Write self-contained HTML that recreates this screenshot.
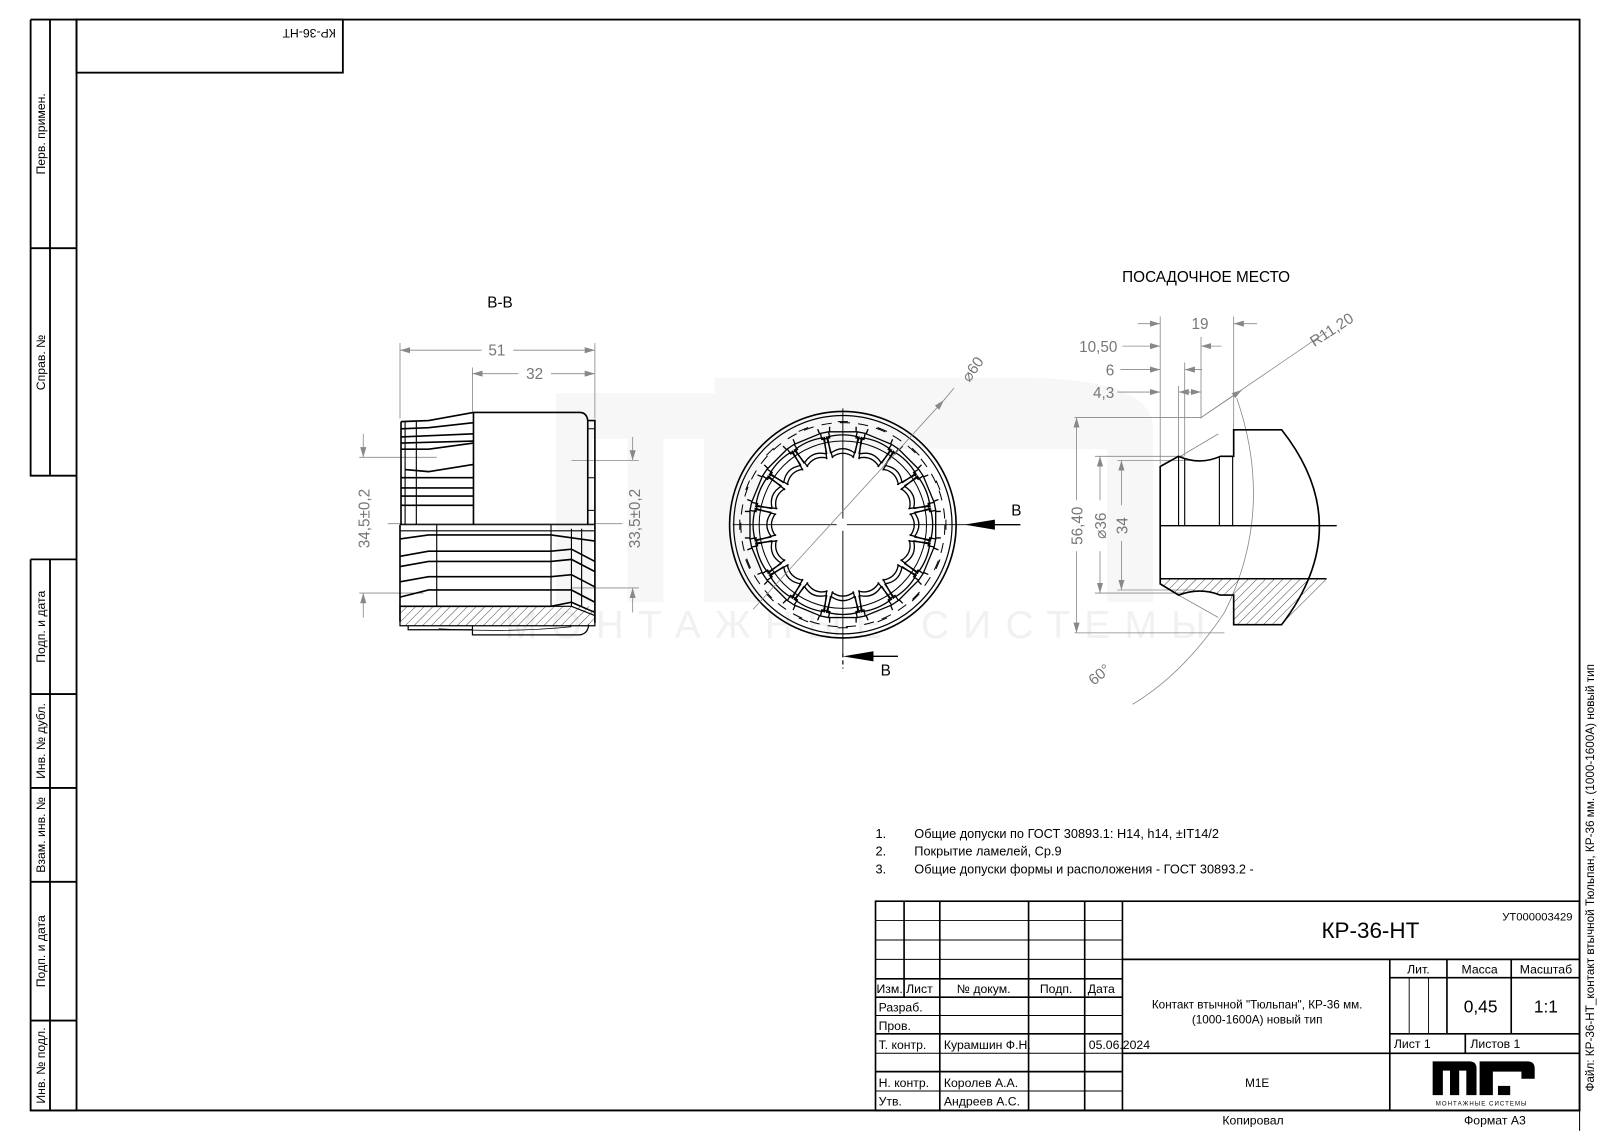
<!DOCTYPE html>
<html><head><meta charset="utf-8"><style>
html,body{margin:0;padding:0;background:#fff;}
svg{display:block;}
text{font-family:"Liberation Sans","DejaVu Sans",sans-serif;}
</style></head><body>
<svg width="1600" height="1131" viewBox="0 0 1568 1108" xmlns="http://www.w3.org/2000/svg" xmlns:xlink="http://www.w3.org/1999/xlink">
<defs>
<pattern id="h" width="6" height="6" patternUnits="userSpaceOnUse" patternTransform="rotate(45)">
<line x1="0" y1="0" x2="0" y2="6" stroke="#000" stroke-width="0.7"/>
</pattern>
<marker id="a" viewBox="0 0 10 6" refX="10" refY="3" markerWidth="10" markerHeight="6" orient="auto-start-reverse" markerUnits="userSpaceOnUse">
<path d="M0,0 L10,3 L0,6 z" fill="#888"/>
</marker>
<g id="cell" fill="none" stroke="#000" stroke-width="1.3">
<path d="M-13,-96 L-13,-91 L13,-91 L13,-96"/>
<path d="M-5,-101 L5,-101" stroke-width="1"/>
<path d="M-12,-70 Q0,-79 12,-70"/>
<path d="M-11,-66 Q0,-74 11,-66"/>
<path d="M-15,-86 Q0,-90 15,-86"/>
<path d="M-12,-70 L-15,-86 M12,-70 L15,-86"/>
<path d="M-3,-66 L-1,-88 M3,-66 L1,-88" transform="rotate(11.25)"/>
<path d="M-4,-86 L4,-86 L4,-92 L-4,-92 z" transform="rotate(11.25)"/>
</g>
</defs>
<rect x="0" y="0" width="1568" height="1108" fill="#fff"/>

<!-- watermark -->
<g fill="#f7f7f7">
<path d="M545,385 L690,385 Q720,385 720,415 L720,590 L690,590 L690,430 L650,430 L650,590 L615,590 L615,430 L580,430 L580,590 L545,590 z"/>
<path d="M700,370 L1000,370 Q1130,370 1130,420 L1130,590 L1085,590 L1085,440 L745,440 L745,590 L700,590 z"/>
</g>
<text x="845" y="625" font-size="38" fill="#f1f1f1" text-anchor="middle" letter-spacing="14">МОНТАЖНЫЕ СИСТЕМЫ</text>

<!-- frame -->
<g stroke="#000" stroke-width="1.8" fill="none">
<rect x="75" y="19" width="1473" height="1069"/>
<rect x="75" y="19" width="261" height="52"/>
<path d="M30,19 L75,19 M30,19 L30,466 L75,466 M49,19 L49,466 M30,243 L75,243"/>
<path d="M30,548 L75,548 M30,548 L30,1088 L75,1088 M49,548 L49,1088 M30,680 L75,680 M30,772 L75,772 M30,864 L75,864 M30,1000 L75,1000"/>
</g>
<text transform="translate(303,28) rotate(180)" font-size="12" text-anchor="middle">КР-36-НТ</text>
<g font-size="12" text-anchor="middle">
<text transform="translate(44,131) rotate(-90)">Перв. примен.</text>
<text transform="translate(44,355) rotate(-90)">Справ. №</text>
<text transform="translate(44,614) rotate(-90)">Подп. и дата</text>
<text transform="translate(44,726) rotate(-90)">Инв. № дубл.</text>
<text transform="translate(44,818) rotate(-90)">Взам. инв. №</text>
<text transform="translate(44,932) rotate(-90)">Подп. и дата</text>
<text transform="translate(44,1044) rotate(-90)">Инв. № подл.</text>
</g>
<text transform="translate(1562,860) rotate(-90)" font-size="11.5" text-anchor="middle">Файл: КР-36-НТ_контакт втычной Тюльпан, КР-36 мм. (1000-1600А) новый тип</text>
<path d="M1548,1088 L1548,1108" stroke="#000" stroke-width="1"/>

<!-- headings -->
<text x="490" y="301" font-size="15" text-anchor="middle">B-B</text>
<text x="1182" y="276" font-size="15" text-anchor="middle">ПОСАДОЧНОЕ МЕСТО</text>

<!-- LEFT VIEW B-B -->
<g stroke="#888" stroke-width="0.8" fill="none">
<path d="M392,336 L392,410 M583,336 L583,410 M463,360 L463,403"/>
<line x1="392" y1="343" x2="472" y2="343" marker-start="url(#a)"/>
<line x1="503" y1="343" x2="583" y2="343" marker-end="url(#a)"/>
<line x1="463" y1="366" x2="508" y2="366" marker-start="url(#a)"/>
<line x1="540" y1="366" x2="583" y2="366" marker-end="url(#a)"/>
<path d="M352,448 L428,448 M352,581 L415,581 M560,451 L626,451 M560,576 L626,576"/>
<line x1="356" y1="425" x2="356" y2="448" marker-end="url(#a)"/>
<line x1="356" y1="605" x2="356" y2="581" marker-end="url(#a)"/>
<line x1="620" y1="428" x2="620" y2="451" marker-end="url(#a)"/>
<line x1="620" y1="600" x2="620" y2="576" marker-end="url(#a)"/>
<path d="M380,513 L610,513"/>
</g>
<g font-size="15" fill="#777" text-anchor="middle">
<text x="487" y="348">51</text>
<text x="524" y="371">32</text>
<text transform="translate(362,508) rotate(-90)">34,5±0,2</text>
<text transform="translate(627,508) rotate(-90)">33,5±0,2</text>
</g>
<g stroke="#000" fill="none" stroke-width="1.6">
<path d="M464,514 L464,404 L568,404 Q575,404 576,412 L576,514"/>
<path d="M576,412 L583,412 L583,514"/>
<path d="M576,420 L583,420 M576,468 L583,468 M576,500 L583,500" stroke-width="1"/>
<path d="M393,413 L393,514"/>
<path d="M397,413 L397,514 M408,413 L408,514" stroke-width="1.1"/>
<path d="M393,413 L420,412 L464,404"/>
<path d="M393,420 L420,419 L464,414 M393,428 L464,425 M393,434 L464,432"/>
<path d="M393,440 L420,440 L464,434 M397,460 L420,462 L464,455"/>
<path d="M393,468 L464,468 M393,478 L464,478 M393,486 L464,486"/>
<path d="M393,495 L464,495"/>
<path d="M392,514 L392,609 M583,514 L583,610"/>
<path d="M392,514 L583,514 M392,520 L583,520" stroke-width="1.2"/>
<path d="M428,514 L428,594 M540,514 L540,594 M560,518 L560,594 M570,518 L570,594" stroke-width="1.1"/>
<path d="M392,528 L420,524 L540,524 L583,530"/>
<path d="M392,545 L420,540 L540,540 L560,538 L583,550"/>
<path d="M392,555 L420,550 L540,550 L560,548 L583,560"/>
<path d="M392,570 L420,565 L540,565 L560,563 L583,575"/>
<path d="M392,585 L420,578 L540,578 L560,578 L583,590"/>
<path d="M392,594 L540,594 L560,590 L583,600"/>
<rect x="392" y="594" width="191" height="19" fill="url(#h)" stroke="none"/>
<path d="M392,594 L560,594 L583,603 L583,613 L392,613 z" stroke-width="1.2"/>
<path d="M400,613 L400,617 L463,617 M463,613 L463,622 L568,622 Q576,621 577,612" stroke-width="1.2"/>
<path d="M430,616 Q500,620 560,614" stroke-width="0.8"/>
</g>

<!-- CIRCLE VIEW -->
<g stroke="#000" fill="none">
<circle cx="826" cy="514" r="111" stroke-width="1.6"/>
<circle cx="826" cy="514" r="107" stroke-width="1.2"/>
<circle cx="826" cy="514" r="100" stroke-width="1" stroke-dasharray="10,8"/>
<circle cx="826" cy="514" r="82" stroke-width="1"/>
<g transform="translate(826,514)">
<use xlink:href="#cell" transform="rotate(0)"/>
<use xlink:href="#cell" transform="rotate(22.5)"/>
<use xlink:href="#cell" transform="rotate(45)"/>
<use xlink:href="#cell" transform="rotate(67.5)"/>
<use xlink:href="#cell" transform="rotate(90)"/>
<use xlink:href="#cell" transform="rotate(112.5)"/>
<use xlink:href="#cell" transform="rotate(135)"/>
<use xlink:href="#cell" transform="rotate(157.5)"/>
<use xlink:href="#cell" transform="rotate(180)"/>
<use xlink:href="#cell" transform="rotate(202.5)"/>
<use xlink:href="#cell" transform="rotate(225)"/>
<use xlink:href="#cell" transform="rotate(247.5)"/>
<use xlink:href="#cell" transform="rotate(270)"/>
<use xlink:href="#cell" transform="rotate(292.5)"/>
<use xlink:href="#cell" transform="rotate(315)"/>
<use xlink:href="#cell" transform="rotate(337.5)"/>
</g>
<path d="M718,514 L820,514 M830,514 L950,514" stroke-width="0.9"/>
<path d="M826,400 L826,508 M826,520 L826,640" stroke-width="0.9"/>
<path d="M826,640 L826,655" stroke-width="1.2" stroke-dasharray="4,3"/>
<path d="M950,514 L1000,514" stroke-width="1.3"/>
<path d="M836,643 L880,643" stroke-width="1.3"/>
</g>
<path d="M945,514 L975,509 L975,519 z" fill="#000"/>
<path d="M826,643 L856,638 L856,648 z" fill="#000"/>
<text x="996" y="505" font-size="15" text-anchor="middle">B</text>
<text x="868" y="662" font-size="15" text-anchor="middle">B</text>
<line x1="738" y1="597" x2="925" y2="392" stroke="#888" stroke-width="0.8" marker-end="url(#a)"/>
<line x1="925" y1="392" x2="935" y2="380" stroke="#888" stroke-width="0.8"/>
<text transform="translate(950,375) rotate(-55)" font-size="15" fill="#777">⌀60</text>

<!-- RIGHT VIEW -->
<g stroke="#888" stroke-width="0.8" fill="none">
<path d="M1137,310 L1137,455 M1209,310 L1209,420 M1177,330 L1177,410 M1161,355 L1161,447 M1155,378 L1155,447"/>
<path d="M1053,409 L1177,409 M1073,447 L1160,447 M1095,451 L1170,451 M1095,578 L1170,578 M1073,581 L1160,581 M1053,620 L1200,620"/>
<line x1="1115" y1="317" x2="1137" y2="317" marker-end="url(#a)"/>
<line x1="1232" y1="317" x2="1209" y2="317" marker-end="url(#a)"/>
<line x1="1100" y1="339" x2="1137" y2="339" marker-end="url(#a)"/>
<line x1="1197" y1="339" x2="1177" y2="339" marker-end="url(#a)"/>
<line x1="1098" y1="362" x2="1137" y2="362" marker-end="url(#a)"/>
<line x1="1178" y1="362" x2="1161" y2="362" marker-end="url(#a)"/>
<line x1="1095" y1="384" x2="1137" y2="384" marker-end="url(#a)"/>
<line x1="1155" y1="384" x2="1177" y2="384" marker-start="url(#a)" marker-end="url(#a)"/>
<line x1="1055" y1="490" x2="1055" y2="409" marker-end="url(#a)"/>
<line x1="1055" y1="540" x2="1055" y2="620" marker-end="url(#a)"/>
<line x1="1078" y1="490" x2="1078" y2="447" marker-end="url(#a)"/>
<line x1="1078" y1="540" x2="1078" y2="581" marker-end="url(#a)"/>
<line x1="1099" y1="495" x2="1099" y2="451" marker-end="url(#a)"/>
<line x1="1099" y1="530" x2="1099" y2="578" marker-end="url(#a)"/>
<path d="M1177,409 L1300,325"/>
<line x1="1177" y1="409" x2="1217" y2="382" marker-end="url(#a)"/>
<path d="M1155,448 L1194,425 M1155,583 L1194,605"/>
<path d="M1212,390 Q1250,500 1200,600 Q1160,660 1110,690"/>
</g>
<g font-size="15" fill="#777">
<text x="1176" y="322" text-anchor="middle">19</text>
<text x="1095" y="345" text-anchor="end">10,50</text>
<text x="1092" y="368" text-anchor="end">6</text>
<text x="1092" y="390" text-anchor="end">4,3</text>
<text transform="translate(1061,515) rotate(-90)" text-anchor="middle">56,40</text>
<text transform="translate(1084,515) rotate(-90)" text-anchor="middle">⌀36</text>
<text transform="translate(1105,515) rotate(-90)" text-anchor="middle">34</text>
<text transform="translate(1288,340) rotate(-33)">R11,20</text>
<text transform="translate(1072,672) rotate(-40)">60°</text>
</g>
<g stroke="#000" fill="none" stroke-width="1.6">
<path d="M1137,457 L1155,447 Q1176,456 1196,447 L1209,447 L1209,421 L1256,421 Q1330,515 1256,612 L1209,612 L1209,583 L1196,583 Q1176,575 1155,583 L1137,572 z"/>
<path d="M1137,515 L1310,515 M1137,567 L1300,567" stroke-width="1.4"/>
<path d="M1155,447 L1155,515 M1161,449 L1161,515 M1195,448 L1195,515 M1208,447 L1208,515" stroke-width="1.1"/>
</g>
<path d="M1137,567 L1300,567 Q1290,592 1256,612 L1209,612 L1209,583 L1196,583 Q1176,575 1155,583 L1137,572 z" fill="url(#h)"/>

<!-- notes -->
<g font-size="12.5">
<text x="858" y="821">1.</text><text x="896" y="821">Общие допуски по ГОСТ 30893.1: H14, h14, ±IT14/2</text>
<text x="858" y="838">2.</text><text x="896" y="838">Покрытие ламелей, Ср.9</text>
<text x="858" y="856">3.</text><text x="896" y="856">Общие допуски формы и расположения - ГОСТ 30893.2 -</text>
</g>

<!-- TITLE BLOCK -->
<g stroke="#000" fill="none" stroke-width="1.6">
<rect x="858" y="883" width="690" height="205"/>
<path d="M1100,883 L1100,1088 M1100,940 L1548,940 M1100,1032 L1548,1032"/>
<path d="M886,883 L886,977 M921,883 L921,1088 M1008,883 L1008,1088 M1063,883 L1063,1088"/>
<path d="M858,959 L1100,959 M858,977 L1100,977"/>
<path d="M1362,940 L1362,1088 M1418,940 L1418,1013 M1481,940 L1481,1013 M1362,958 L1548,958 M1362,1013 L1548,1013 M1436,1013 L1436,1032"/>
<path d="M858,1013 L1100,1013 M858,1050 L1100,1050 M30,1088 L1548,1088"/>
</g>
<g stroke="#000" fill="none" stroke-width="0.9">
<path d="M858,902 L1100,902 M858,921 L1100,921 M858,940 L1100,940 M858,995 L1100,995 M858,1032 L1100,1032 M858,1069 L1100,1069"/>
<path d="M1381,958 L1381,1013 M1400,958 L1400,1013"/>
</g>
<g font-size="12">
<text x="859" y="973">Изм.</text><text x="888" y="973">Лист</text>
<text x="964" y="973" text-anchor="middle">№ докум.</text>
<text x="1035" y="973" text-anchor="middle">Подп.</text>
<text x="1066" y="973">Дата</text>
<text x="861" y="991">Разраб.</text>
<text x="861" y="1009">Пров.</text>
<text x="861" y="1028">Т. контр.</text>
<text x="925" y="1028">Курамшин Ф.Н.</text>
<text x="1067" y="1028">05.06.2024</text>
<text x="861" y="1065">Н. контр.</text>
<text x="925" y="1065">Королев А.А.</text>
<text x="861" y="1083">Утв.</text>
<text x="925" y="1083">Андреев А.С.</text>
<text x="1232" y="988" text-anchor="middle" font-size="11.5">Контакт втычной "Тюльпан", КР-36 мм.</text>
<text x="1232" y="1003" text-anchor="middle" font-size="11.5">(1000-1600А) новый тип</text>
<text x="1232" y="1065" text-anchor="middle" font-size="11.5">M1E</text>
<text x="1390" y="954" text-anchor="middle">Лит.</text>
<text x="1450" y="954" text-anchor="middle">Масса</text>
<text x="1515" y="954" text-anchor="middle">Масштаб</text>
<text x="1366" y="1027">Лист 1</text>
<text x="1441" y="1027">Листов 1</text>
<text x="1228" y="1102" text-anchor="middle">Копировал</text>
<text x="1465" y="1102" text-anchor="middle">Формат А3</text>
<text x="1541" y="902" text-anchor="end" font-size="11">УТ000003429</text>
</g>
<text x="1343" y="919" font-size="22" text-anchor="middle">КР-36-НТ</text>
<text x="1451" y="992" font-size="17" text-anchor="middle">0,45</text>
<text x="1515" y="992" font-size="17" text-anchor="middle">1:1</text>
<!-- logo -->
<g fill="#000">
<path d="M1404,1040 L1440,1040 Q1447,1040 1447,1047 L1447,1073 L1437,1073 L1437,1049 L1430,1049 L1430,1073 L1421,1073 L1421,1049 L1414,1049 L1414,1073 L1404,1073 z"/>
<path d="M1450,1040 L1497,1040 Q1504,1040 1504,1047 L1504,1057 L1491,1057 L1491,1050 L1463,1050 L1463,1073 L1450,1073 z"/>
<path d="M1468,1064 L1480,1064 L1480,1073 L1468,1073 z"/>
</g>
<text x="1452" y="1083" font-size="6" text-anchor="middle" letter-spacing="1">МОНТАЖНЫЕ СИСТЕМЫ</text>
</svg>
</body></html>
